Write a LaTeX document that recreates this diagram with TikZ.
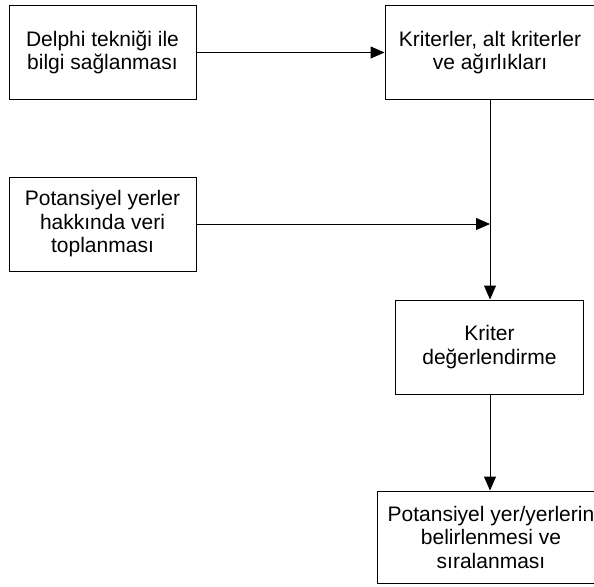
\documentclass[tikz,border=0pt]{standalone}
\usepackage{fontspec}
\setmainfont{Liberation Sans}
\usetikzlibrary{arrows.meta}
\begin{document}
\begin{tikzpicture}[x=1pt,y=-1pt,
  stepbox/.style={draw=black,line width=1pt,fill=white,inner sep=0pt,
    align=center,font=\fontsize{21}{23.5}\selectfont},
  flow/.style={draw=black,line width=1pt,
    -{Triangle[length=14pt,width=12pt]}},
  link/.style={draw=black,line width=1pt}]
\useasboundingbox (0,0) rectangle (594,586);
\clip (0,0) rectangle (594,586);
\fill[white] (0,0) rectangle (594,586);
% process boxes
\node[stepbox,minimum width=187pt,minimum height=93pt] (delphi) at (102.5,52.5)
  {Delphi tekniği ile\\bilgi sağlanması};
\node[stepbox,minimum width=210pt,minimum height=93pt] (krit) at (490,52.5)
  {Kriterler, alt kriterler\\ve ağırlıkları};
\node[stepbox,minimum width=187pt,minimum height=94pt] (veri) at (102.5,224)
  {Potansiyel yerler\\hakkında veri\\toplanması};
\node[stepbox,minimum width=188pt,minimum height=94pt] (deger) at (489.5,347)
  {Kriter\\değerlendirme};
\node[stepbox,minimum width=228pt,minimum height=92pt] (sonuc) at (491,537)
  {Potansiyel yer/yerlerin\\belirlenmesi ve\\sıralanması};
% junction on the vertical connector
\coordinate (join) at (krit.south |- veri.east);
% connectors
\draw[flow] (delphi.east) -- (krit.west |- delphi.east);
\draw[flow] (krit.south) -- (deger.north -| krit.south);
\draw[flow] (veri.east) -- (join);
\draw[flow] (deger.south -| krit.south) -- (sonuc.north -| krit.south);
\end{tikzpicture}
\end{document}
